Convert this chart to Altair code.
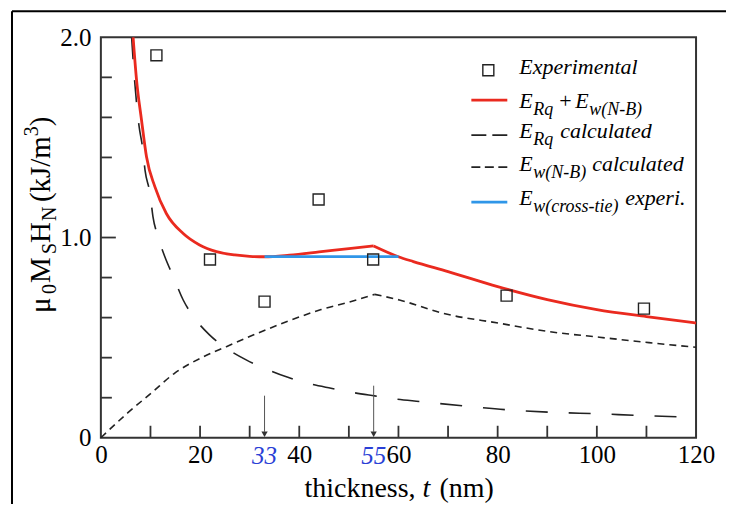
import altair as alt
import pandas as pd

FONT = "Liberation Serif"

# ---- data ----
t_exp = [11.2, 22.0, 33.0, 43.9, 54.9, 81.8, 109.5]
h_exp = [1.91, 0.89, 0.68, 1.19, 0.89, 0.71, 0.645]

# E_Rq + E_w(N-B): rising branch up to the kink at 55 nm, then the falling branch
t_sum_a = [6.5, 7.2, 8.2, 9.2, 10.9, 13.2, 16.6, 19.9, 23.3, 27, 30, 33, 38, 44, 50, 55]
h_sum_a = [2.0, 1.785, 1.586, 1.403, 1.253, 1.12, 1.02, 0.963, 0.93, 0.913, 0.906, 0.904,
           0.912, 0.928, 0.945, 0.958]
t_sum_b = [55, 60, 63, 70, 80, 90, 100, 110, 120]
h_sum_b = [0.958, 0.904, 0.880, 0.830, 0.755, 0.690, 0.640, 0.605, 0.573]

t_rq = [6.2, 6.8, 7.2, 7.7, 8.4, 8.9, 9.9, 10.5, 11.5, 12.9, 14.6, 16.6, 18.9, 21.9, 25.3,
        29.3, 33.4, 37.7, 41.7, 46.4, 50.8, 55.2, 59.5, 64.2, 72.9, 81.7, 91.1, 99.8, 109.2, 120]
h_rq = [2.0, 1.785, 1.67, 1.556, 1.45, 1.337, 1.22, 1.105, 1.005, 0.904, 0.805, 0.688, 0.597,
        0.514, 0.447, 0.389, 0.343, 0.302, 0.272, 0.247, 0.226, 0.209, 0.193, 0.181, 0.160,
        0.140, 0.127, 0.120, 0.111, 0.102]

# E_w(N-B): rising branch up to 55 nm, then falling branch
t_w_a = [0, 5.4, 10.2, 14.9, 20.3, 25.3, 31.7, 37.7, 44.4, 49.8, 55.2]
h_w_a = [0, 0.124, 0.224, 0.323, 0.400, 0.455, 0.523, 0.582, 0.640, 0.676, 0.716]
t_w_b = [55.2, 60.2, 68.9, 80.3, 90.4, 100.5, 110.5, 120]
h_w_b = [0.716, 0.688, 0.622, 0.572, 0.530, 0.502, 0.475, 0.452]

t_ct = [33, 60]
h_ct = [0.905, 0.905]

arrow_t = [33, 55]
arrow_top = [0.21, 0.26]
arrow_labels = ["33", "55"]

x_tick_vals = [10, 20, 30, 40, 50, 60, 70, 80, 90, 100, 110]
y_minor_vals = [0.2, 0.4, 0.6, 0.8, 1.2, 1.4, 1.6, 1.8]
y_major_vals = [1.0]
x_label_vals = [0, 20, 40, 60, 80, 100, 120]
y_label_vals = [0, 1, 2]

W, H = 596, 401
RED = "#ea2a1f"
BLUE = "#2f96e8"

xscale = alt.Scale(domain=[0, 120], nice=False, zero=False)
yscale = alt.Scale(domain=[0, 2], nice=False, zero=False)
xaxis = alt.Axis(values=x_label_vals, title=None, grid=False, domain=False, ticks=False,
                 tickSize=0, labelFont=FONT, labelFontSize=25, labelColor="black",
                 labelPadding=5, labelFlush=False, labelOverlap=False)
yaxis = alt.Axis(values=y_label_vals, title=None, grid=False, domain=False, ticks=False,
                 tickSize=0, labelFont=FONT, labelFontSize=25, labelColor="black",
                 labelPadding=10, labelFlush=False, labelOverlap=False,
                 labelExpr="datum.value == 0 ? '0' : format(datum.value, '.1f')")


def X(f="t"):
    return alt.X(f"{f}:Q", scale=xscale, axis=xaxis)


def Y(f="h"):
    return alt.Y(f"{f}:Q", scale=yscale, axis=yaxis)


def df(t, h):
    return pd.DataFrame({"t": t, "h": h})


one = pd.DataFrame({"k": [0]})


def txt(s, x, y, size=22, italic=True, angle=None, color="black", align="left"):
    kw = dict(text=s, font=FONT, fontSize=size, align=align, baseline="alphabetic", color=color)
    if italic:
        kw["fontStyle"] = "italic"
    if angle is not None:
        kw["angle"] = angle
    return alt.Chart(one).mark_text(**kw).encode(x=alt.value(x), y=alt.value(y))


def hline(x1, x2, y, color, dash=None, width=2):
    kw = dict(color=color, strokeWidth=width)
    if dash:
        kw["strokeDash"] = dash
    return alt.Chart(one).mark_rule(**kw).encode(x=alt.value(x1), x2=alt.value(x2), y=alt.value(y))


def curve(t, h, color, width, dash=None):
    kw = dict(color=color, strokeWidth=width, interpolate="monotone")
    if dash:
        kw["strokeDash"] = dash
    return alt.Chart(df(t, h)).mark_line(**kw).encode(x=X(), y=Y())


layers = []

# inward ticks
layers.append(alt.Chart(pd.DataFrame({"t": x_tick_vals})).mark_rule(color="#333", strokeWidth=1.8)
              .encode(x=X(), y=alt.value(H), y2=alt.value(H - 12)))
layers.append(alt.Chart(pd.DataFrame({"h": y_minor_vals})).mark_rule(color="#333", strokeWidth=1.8)
              .encode(y=Y(), x=alt.value(0), x2=alt.value(11)))
layers.append(alt.Chart(pd.DataFrame({"h": y_major_vals})).mark_rule(color="#333", strokeWidth=1.8)
              .encode(y=Y(), x=alt.value(0), x2=alt.value(15)))

# curves
layers.append(curve(t_rq, h_rq, "#222", 1.6, [22, 21]))
layers.append(curve(t_w_a, h_w_a, "#222", 1.6, [7, 5]))
layers.append(curve(t_w_b, h_w_b, "#222", 1.6, [7, 5]))
layers.append(curve(t_sum_a, h_sum_a, RED, 2.8))
layers.append(curve(t_sum_b, h_sum_b, RED, 2.8))
layers.append(curve(t_ct, h_ct, BLUE, 2.8))
layers.append(alt.Chart(df(t_exp, h_exp)).mark_point(shape="square", filled=False, size=121,
                                                      color="#222", strokeWidth=1.4, opacity=1)
              .encode(x=X(), y=Y()))

# arrows and blue labels
arr = pd.DataFrame({"t": arrow_t, "h": arrow_top, "tip": [0.03, 0.03], "lab": arrow_labels,
                    "head": [0.017, 0.017]})
layers.append(alt.Chart(arr).mark_rule(color="#555", strokeWidth=1)
              .encode(x=X(), y=Y(), y2="tip:Q"))
layers.append(alt.Chart(arr).mark_point(shape="triangle-down", filled=True, size=40,
                                        color="#333", opacity=1)
              .encode(x=X(), y=Y("head")))
layers.append(alt.Chart(arr).mark_text(font=FONT, fontSize=25, fontStyle="italic",
                                       color="#2a3fd6", baseline="alphabetic", align="center")
              .encode(x=X(), y=alt.value(H + 26), text="lab:N"))

# legend (page coords minus plot origin 101,37)
layers.append(alt.Chart(one).mark_point(shape="square", filled=False, size=121, color="#222",
                                        strokeWidth=1.4, opacity=1)
              .encode(x=alt.value(388), y=alt.value(33)))
layers.append(txt("Experimental", 419, 37))
layers.append(hline(371, 407, 63, RED, width=2.8))
layers.append(txt("E", 419, 71))
layers.append(txt("Rq", 433, 78, size=18))
layers.append(txt("+", 459, 71, italic=False))
layers.append(txt("E", 475, 71))
layers.append(txt("w(N-B)", 489, 78, size=18))
layers.append(hline(371, 407, 98, "#222", dash=[15, 6], width=1.6))
layers.append(txt("E", 419, 101))
layers.append(txt("Rq", 433, 108, size=18))
layers.append(txt("calculated", 460, 101))
layers.append(hline(371, 407, 130, "#222", dash=[9, 4.5], width=1.6))
layers.append(txt("E", 419, 134))
layers.append(txt("w(N-B)", 433, 141, size=18))
layers.append(txt("calculated", 492, 134))
layers.append(hline(371, 407, 165, BLUE, width=2.8))
layers.append(txt("E", 419, 168))
layers.append(txt("w(cross-tie)", 433, 175, size=18))
layers.append(txt("experi.", 525, 168))

# x axis title
layers.append(txt("thickness,", 204, 460, size=28, italic=False))
layers.append(txt("t", 322, 460, size=28, italic=True))
layers.append(txt("(nm)", 339, 460, size=28, italic=False))

# y axis title (rotated, reading upward)
bx = -51
for s, y, dx, size in [("\u03bc", 276, 0, 29), ("0", 257, 6, 20), ("M", 246, 0, 29),
                       ("S", 217, 6, 20), ("H", 206, 0, 29), ("N", 184, 6, 20),
                       ("(kJ/m", 165, 0, 29), ("3", 99, -12, 20), (")", 89, 0, 29)]:
    layers.append(txt(s, bx + dx, y, size=size, italic=False, angle=270))

# outer frame
layers.append(alt.Chart(one).mark_rule(color="black", strokeWidth=2)
              .encode(x=alt.value(-89), y=alt.value(-26), y2=alt.value(480)))
layers.append(alt.Chart(one).mark_rule(color="black", strokeWidth=2)
              .encode(x=alt.value(-89), x2=alt.value(640), y=alt.value(-26)))

chart = alt.layer(*layers).properties(
    width=W, height=H,
    autosize=alt.AutoSizeParams(type="none"),
    padding={"left": 93, "top": 29, "right": 30, "bottom": 66},
).configure_view(stroke="#333", strokeWidth=2)

chart.save("out.html", embed_options={"renderer": "svg", "actions": False})
